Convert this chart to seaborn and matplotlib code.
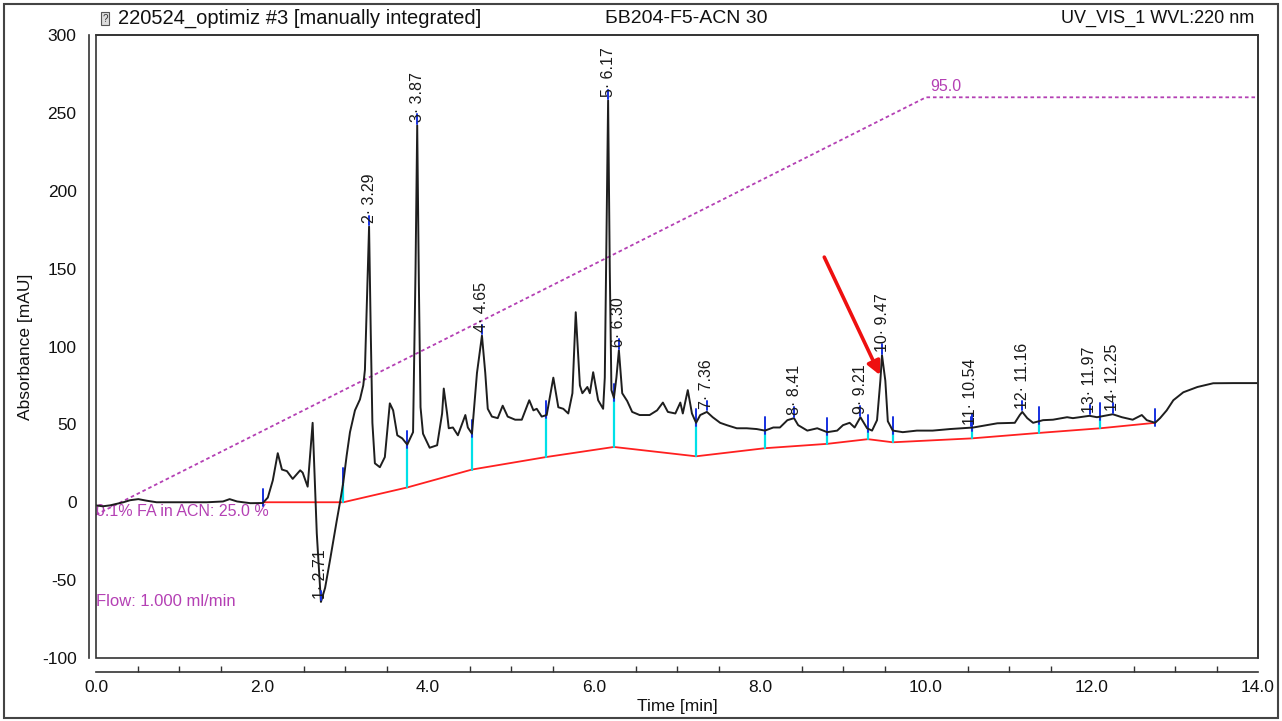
import numpy as np
import matplotlib
matplotlib.use("Agg")
import matplotlib.pyplot as plt
from matplotlib.patches import Rectangle
from matplotlib.ticker import MultipleLocator
import seaborn as sns

# chromatogram trace (time [min], absorbance [mAU])
trace_t = [0.00, 0.08, 0.17, 0.25, 0.33, 0.41, 0.51, 0.61, 0.73, 0.93, 1.13, 1.34, 1.53, 1.61, 1.70,
           1.86, 2.01, 2.07, 2.13, 2.19, 2.24, 2.30, 2.37, 2.46, 2.49, 2.55, 2.61, 2.66, 2.71, 2.76,
           2.82, 2.90, 2.94, 2.98, 3.02, 3.06, 3.12, 3.18, 3.22, 3.24, 3.27, 3.29, 3.31, 3.33, 3.36,
           3.42, 3.48, 3.54, 3.58, 3.63, 3.69, 3.75, 3.82, 3.85, 3.87, 3.89, 3.91, 3.94, 4.02, 4.11,
           4.17, 4.19, 4.23, 4.25, 4.30, 4.36, 4.45, 4.48, 4.53, 4.59, 4.65, 4.69, 4.72, 4.77, 4.84,
           4.90, 4.96, 5.05, 5.13, 5.22, 5.27, 5.31, 5.37, 5.43, 5.51, 5.57, 5.63, 5.69, 5.74, 5.78,
           5.83, 5.86, 5.92, 5.95, 5.99, 6.05, 6.11, 6.13, 6.15, 6.17, 6.19, 6.21, 6.24, 6.27, 6.30,
           6.34, 6.40, 6.46, 6.55, 6.67, 6.76, 6.83, 6.89, 6.98, 7.04, 7.07, 7.13, 7.18, 7.23, 7.28,
           7.36, 7.43, 7.52, 7.60, 7.72, 7.84, 7.96, 8.06, 8.16, 8.24, 8.33, 8.41, 8.46, 8.57, 8.69,
           8.81, 8.93, 9.00, 9.08, 9.14, 9.21, 9.29, 9.35, 9.41, 9.45, 9.47, 9.51, 9.54, 9.60, 9.72,
           9.89, 10.08, 10.29, 10.57, 10.86, 11.07, 11.13, 11.16, 11.22, 11.29, 11.41, 11.53, 11.70,
           11.77, 11.97, 12.06, 12.25, 12.36, 12.49, 12.60, 12.66, 12.76, 12.82, 12.90, 12.98, 13.10,
           13.27, 13.46, 13.70, 14.00]
trace_y = [-2, -2.6, -2, -1, 0, 1.3, 2, 1, 0, 0, 0, 0, 0.5, 2, 0.5,
           -0.6, -0.5, 3, 14, 31.5, 21, 20, 15, 20.5, 19, 10, 51, -20, -64, -55,
           -37, -12, 0, 13, 30, 45, 59, 66, 75, 85, 140, 177, 110, 51, 25,
           22.5, 29, 63.5, 59, 43, 41, 37, 45, 150, 242, 140, 61, 44, 35, 36.6,
           57, 73, 57, 47.5, 48, 43, 56, 48, 44, 83, 107, 83, 60, 55, 54,
           62, 55, 53, 53, 65.5, 59, 60, 55, 56, 80, 61, 60, 57, 70, 122,
           75, 70, 74, 70, 83.5, 65.5, 60, 80, 170, 258, 150, 72, 67, 80, 97.6,
           70, 65, 58, 56, 56, 59, 64, 58, 57, 64, 57, 72, 57, 51, 56,
           58, 54.6, 51, 49.5, 47.5, 47.5, 47, 46, 48, 48, 52.7, 54, 49.5, 46, 47.5,
           45, 46, 49.5, 51, 48, 54.6, 47.5, 46, 52.7, 78, 94.4, 78, 52, 46, 45,
           46, 46, 47, 48, 50.7, 51, 56, 58, 54, 51, 52.7, 53, 54.6,
           54, 55.5, 54.6, 56.5, 54.6, 53, 56, 52.7, 51, 54, 59, 65.5, 70.6,
           74, 76.4, 76.5, 76.5]

# integration baseline (red) and its break points
base_t = [2.01, 2.98, 3.75, 4.53, 5.42, 6.24, 7.23, 8.06, 8.81, 9.30, 9.60, 10.55, 11.36, 12.10, 12.76]
base_y = [0, 0, 9.5, 21, 29, 35.5, 29.5, 34.7, 37.5, 40.5, 38.5, 41, 44.5, 47.5, 51]

# labelled peaks
peak_no = [1, 2, 3, 4, 5, 6, 7, 8, 9, 10, 11, 12, 13, 14]
peak_t = [2.71, 3.29, 3.87, 4.65, 6.17, 6.30, 7.36, 8.41, 9.21, 9.47, 10.54, 11.16, 11.97, 12.25]

# gradient program (0.1% FA in ACN)
grad_t = [0.0, 10.0, 14.0]
grad_y = [-8, 260, 260]

sns.set_theme(style="white")
plt.rcParams['font.family'] = ['Liberation Sans', 'DejaVu Sans']
plt.rcParams['axes.unicode_minus'] = False

fig = plt.figure(figsize=(12.82, 7.21), dpi=100)
ax = fig.add_axes([96/1282, 1-658/721, 1162/1282, 623/721])

magenta = '#B440B4'
sns.lineplot(x=grad_t, y=grad_y, ax=ax, color=magenta, lw=1.3, linestyle=(0, (2, 1.6)), estimator=None)
sns.lineplot(x=base_t, y=base_y, ax=ax, color='#FF2020', lw=1.3, estimator=None)

tr_t = np.array(trace_t)
tr_y = np.array(trace_y)
# cyan drop lines between baseline and trace, blue tick marks at the breaks
for t in base_t:
    yt = np.interp(t, tr_t, tr_y)
    yb = np.interp(t, base_t, base_y)
    if yt - yb > 2:
        ax.plot([t, t], [yb, yt], color='#00E0E8', lw=1.6, zorder=3)
    ax.plot([t, t], [yt - 2, yt + 9], color='#1530E0', lw=1.4, zorder=4)

sns.lineplot(x=trace_t, y=trace_y, ax=ax, color='#1e1e1e', lw=1.4, estimator=None, zorder=5)

for n, t in zip(peak_no, peak_t):
    ya = np.interp(t, tr_t, tr_y)
    ax.plot([t, t], [ya + 1, ya + 7], color='#1530E0', lw=1.4, zorder=6)
    ax.text(t, ya + 2, f"{n}\u00b7 {t:.2f}", rotation=90, ha='center', va='bottom',
            fontsize=11.5, color='#1a1a1a', zorder=7)

ax.text(10.05, 262, "95.0", color=magenta, fontsize=11.5, ha='left', va='bottom')
ax.text(0.0, -1, "0.1% FA in ACN: 25.0 %", color=magenta, fontsize=11.5, ha='left', va='top')
ax.text(0.0, -64, "Flow: 1.000 ml/min", color=magenta, fontsize=12, ha='left', va='center')

ax.annotate('', xy=(9.46, 80), xytext=(8.76, 159),
            arrowprops=dict(arrowstyle='-|>', color='#EE1010', lw=2.6, mutation_scale=20))

ax.set_xlim(0, 14)
ax.set_ylim(-100, 300)
ax.xaxis.set_minor_locator(MultipleLocator(0.5))
ax.set_xticks(np.arange(0, 14.1, 2))
ax.set_xticklabels([f"{v:.1f}" for v in np.arange(0, 14.1, 2)])
ax.set_yticks(np.arange(-100, 301, 50))

ax.spines['left'].set_position(('outward', 5))
ax.spines['bottom'].set_position(('outward', 10))
ax.spines['left'].set_bounds(-100, 300)
ax.spines['bottom'].set_bounds(0, 14)
for s in ax.spines.values():
    s.set_color('#333333')
    s.set_linewidth(1.2)
ax.add_patch(Rectangle((0, 0), 1, 1, transform=ax.transAxes, fill=False,
                       ec='#333333', lw=1.2, zorder=10, clip_on=False))

ax.tick_params(axis='both', which='major', direction='in', length=5, width=1.1,
               labelsize=12.5, colors='#333333', labelcolor='#111111')
ax.tick_params(axis='x', which='minor', direction='in', length=4, width=1.0, colors='#333333', bottom=True)
ax.tick_params(axis='y', which='major', pad=9)
ax.tick_params(axis='x', which='major', pad=6)
ax.set_xlabel("Time [min]", fontsize=12.5, labelpad=3, color='#111111')
ax.set_ylabel("Absorbance [mAU]", fontsize=12.5, labelpad=6, color='#111111')

# header line above the plot
fig.text(0.082, 0.974, "?", fontsize=7, ha='center', va='center', color='#333333',
         bbox=dict(boxstyle='square,pad=0.15', fc='#dddddd', ec='#555555', lw=0.8))
fig.text(118/1282, 0.974, "220524_optimiz #3 [manually integrated]", fontsize=14.5, ha='left', va='center', color='#111111')
fig.text(605/1282, 0.974, "\u0411\u0412204-F5-ACN 30", fontsize=14, ha='left', va='center', color='#111111')
fig.text(1254/1282, 0.974, "UV_VIS_1 WVL:220 nm", fontsize=13, ha='right', va='center', color='#111111')

fig.patches.append(Rectangle((0.003, 0.004), 0.994, 0.991, transform=fig.transFigure,
                             fill=False, ec='#444444', lw=1.5))

fig.savefig("out.png", dpi=100)
